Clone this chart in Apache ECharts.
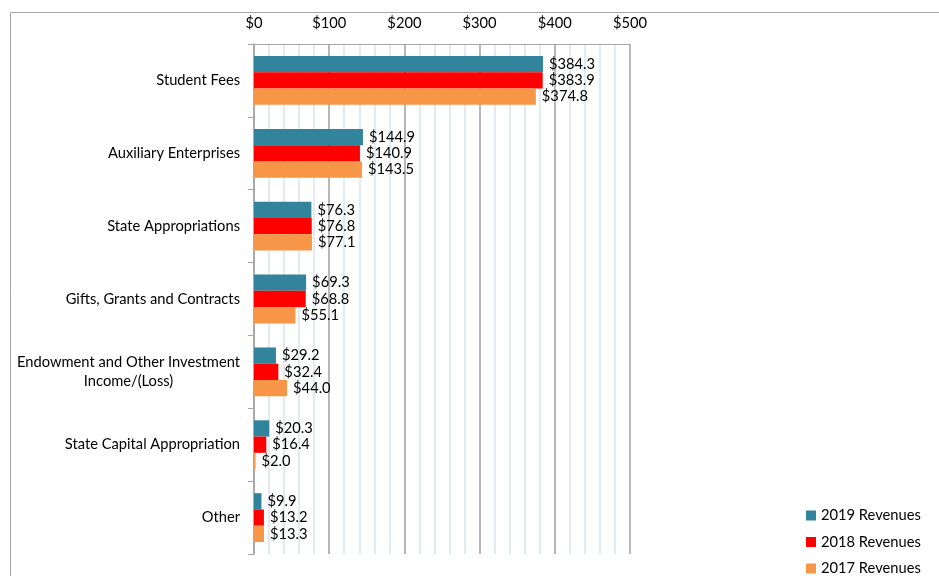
<!DOCTYPE html>
<html>
<head>
<meta charset="utf-8">
<script src="https://cdn.jsdelivr.net/npm/echarts@6/dist/echarts.min.js"></script>
<style>html,body{margin:0;padding:0;background:#fff;}#c{width:939px;height:576px;}</style>
</head>
<body>
<div id="c"></div>
<script>
const categories = ["Student Fees","Auxiliary Enterprises","State Appropriations","Gifts, Grants and Contracts","Endowment and Other Investment\nIncome/(Loss)","State Capital Appropriation","Other"];
const rev2019 = [384.3,144.9,76.3,69.3,29.2,20.3,9.9];
const rev2018 = [383.9,140.9,76.8,68.8,32.4,16.4,13.2];
const rev2017 = [374.8,143.5,77.1,55.1,44.0,2.0,13.3];
const seriesNames = ["2019 Revenues","2018 Revenues","2017 Revenues"];
const colors = ["#31849B","#FF0000","#F79646"];
const xTicks = [0,100,200,300,400,500];

const FONT = "Lato";
const FS = 14.7;
const chart = echarts.init(document.getElementById('c'));
const mk = (name, data, color) => ({
  name, type: 'bar', data, barGap: '0%', barCategoryGap: '33%',
  itemStyle: { color },
  label: { show: true, position: 'right', distance: 6, color: '#000', fontFamily: FONT, fontSize: FS,
    formatter: p => '$' + p.value.toFixed(1) }
});
chart.setOption({
  animation: false,
  textStyle: { fontFamily: FONT },
  graphic: [{ type: 'rect', shape: { x: 10.5, y: 12.5, width: 1000, height: 700 },
    style: { fill: 'none', stroke: '#a6a6a6', lineWidth: 1 }, silent: true }],
  grid: { left: 254, right: 309, top: 44, bottom: 22, containLabel: false },
  legend: {
    orient: 'vertical', left: 801, top: 503, height: 100, itemGap: 11.5,
    itemWidth: 10, itemHeight: 10, icon: 'rect',
    textStyle: { fontFamily: FONT, fontSize: FS, color: '#000', lineHeight: 15 },
    data: seriesNames
  },
  xAxis: {
    type: 'value', position: 'top', min: xTicks[0], max: xTicks[xTicks.length-1], interval: 100,
    axisLine: { show: true, lineStyle: { color: '#a6a6a6' } },
    axisTick: { show: false },
    axisLabel: { margin: 13, color: '#000', fontFamily: FONT, fontSize: FS, formatter: v => '$' + v },
    splitLine: { show: true, lineStyle: { color: '#a0a0a0', width: 1.5 } },
    minorTick: { show: false, splitNumber: 5 },
    minorSplitLine: { show: true, lineStyle: { color: '#dae3ec', width: 1.5 } }
  },
  yAxis: {
    type: 'category', inverse: true, data: categories,
    axisLine: { show: true, lineStyle: { color: '#a6a6a6', width: 1.5 } },
    axisTick: { show: true, length: 6, lineStyle: { color: '#a6a6a6' } },
    axisLabel: { margin: 14, color: '#000', fontFamily: FONT, fontSize: FS,
      formatter: v => '{c|' + v + '}',
      rich: { c: { align: 'center', fontFamily: FONT, fontSize: FS, color: '#000', lineHeight: 19 } } }
  },
  series: [mk(seriesNames[0], rev2019, colors[0]), mk(seriesNames[1], rev2018, colors[1]), mk(seriesNames[2], rev2017, colors[2])]
});
</script>
</body>
</html>
